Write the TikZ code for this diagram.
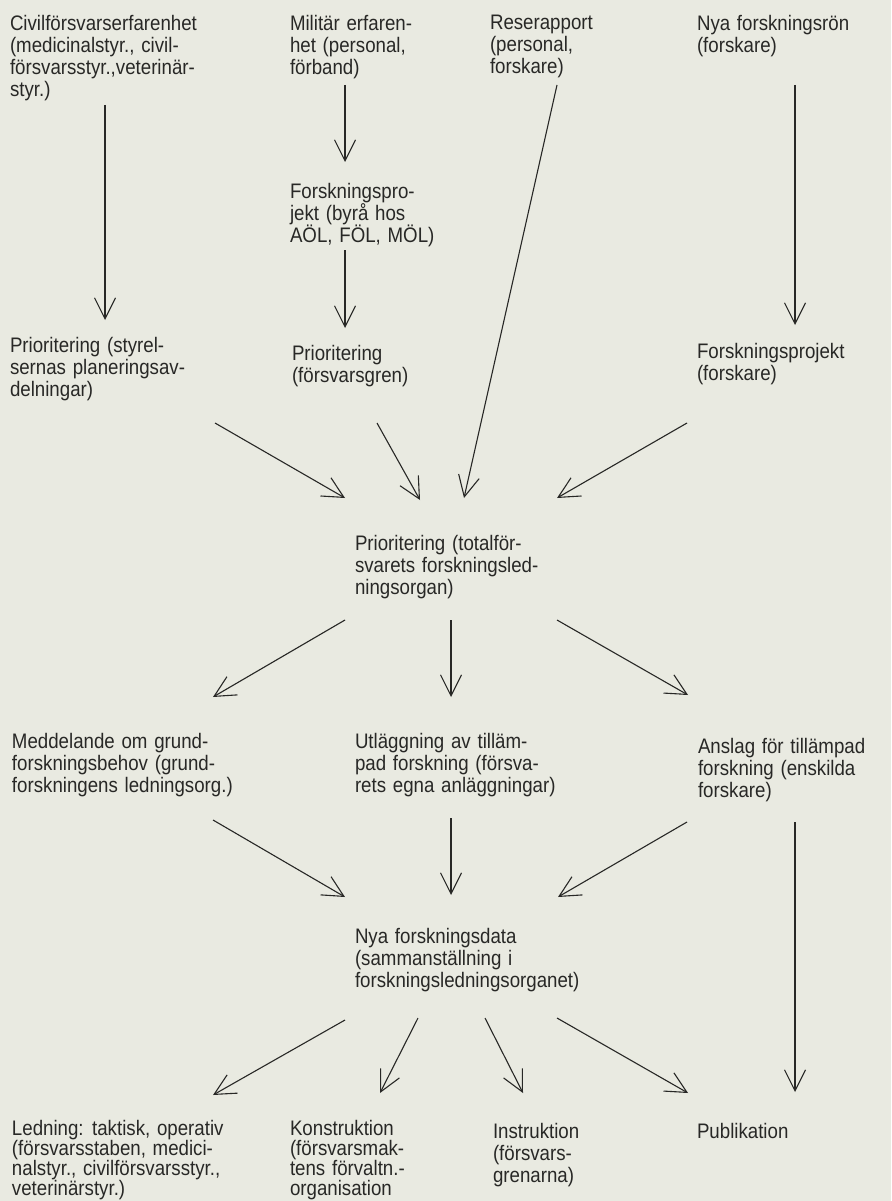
\documentclass[tikz,border=0pt]{standalone}
\usepackage{fontspec}
\setmainfont{Liberation Sans}[FakeStretch=0.89,WordSpace=1.3]
\usetikzlibrary{arrows.meta,calc}
\definecolor{paper}{RGB}{233,234,225}
\definecolor{ink}{RGB}{40,40,38}
\begin{document}
\begin{tikzpicture}[x=1pt,y=-1pt,
  lbl/.style={anchor=north west,inner sep=0pt,outer sep=0pt,align=left,
              font=\fontsize{21}{22}\selectfont,text=ink},
  lblb/.style={lbl,font=\fontsize{21}{20}\selectfont},
  arr/.style={draw=ink,line width=1.1pt,-{Straight Barb[length=21pt,width=21pt]}}]
\fill[paper] (0,0) rectangle (891,1201);
\useasboundingbox (0,0) rectangle (891,1201);

% nodes
\node[lbl] (civ) at (10,15) {Civilförsvarserfarenhet\\(medicinalstyr., civil-\\försvarsstyr.,veterinär-\\styr.)};
\node[lbl] (mil) at (290,15) {Militär erfaren-\\het (personal,\\förband)};
\node[lbl] (rese) at (490,15) {Reserapport\\(personal,\\forskare)};
\node[lbl] (nyar) at (697,15) {Nya forskningsrön\\(forskare)};
\node[lbl] (fpa) at (290,183) {Forskningspro-\\jekt (byrå hos\\AÖL, FÖL, MÖL)};
\node[lbl] (ps) at (10,337) {Prioritering (styrel-\\sernas planeringsav-\\delningar)};
\node[lbl] (pfg) at (292,345) {Prioritering\\(försvarsgren)};
\node[lbl] (fpb) at (697,343) {Forskningsprojekt\\(forskare)};
\node[lbl] (pt) at (355,535) {Prioritering (totalför-\\svarets forskningsled-\\ningsorgan)};
\node[lbl] (med) at (12,733) {Meddelande om grund-\\forskningsbehov (grund-\\forskningens ledningsorg.)};
\node[lbl] (utl) at (355,733) {Utläggning av tilläm-\\pad forskning (försva-\\rets egna anläggningar)};
\node[lbl] (ans) at (698,738) {Anslag för tillämpad\\forskning (enskilda\\forskare)};
\node[lbl] (nfd) at (355,928) {Nya forskningsdata\\(sammanställning i\\forskningsledningsorganet)};
\node[lblb] (led) at (12,1120) {Ledning: taktisk, operativ\\(försvarsstaben, medici-\\nalstyr., civilförsvarsstyr.,\\veterinärstyr.)};
\node[lblb] (kon) at (290,1120) {Konstruktion\\(försvarsmak-\\tens förvaltn.-\\organisation};
\node[lbl] (ins) at (493,1123) {Instruktion\\(försvars-\\grenarna)};
\node[lbl] (pub) at (697,1123) {Publikation};

% connectors
\draw[arr] ($(civ.north west)+(95,90)$) -- ($(ps.north west)+(95,-17)$);
\draw[arr] ($(mil.north west)+(55,70)$) -- ($(fpa.north west)+(55,-21)$);
\draw[arr] ($(fpa.north west)+(55,67)$) -- ($(pfg.north west)+(53,-17)$);
\draw[arr] ($(rese.north west)+(67,70)$) -- ($(pt.north west)+(109,-37)$);
\draw[arr] ($(nyar.north west)+(98,70)$) -- ($(fpb.north west)+(98,-18)$);
\draw[arr] ($(ps.north west)+(205,86)$) -- ($(pt.north west)+(-10,-37)$);
\draw[arr] ($(pfg.north west)+(85,78)$) -- ($(pt.north west)+(65,-35)$);
\draw[arr] ($(fpb.north west)+(-10,80)$) -- ($(pt.north west)+(202,-37)$);
\draw[arr] ($(pt.north west)+(-10,85)$) -- ($(med.north west)+(201,-36)$);
\draw[arr] ($(pt.north west)+(96,85)$) -- ($(utl.north west)+(96,-36)$);
\draw[arr] ($(pt.north west)+(202,85)$) -- ($(ans.north west)+(-10,-43)$);
\draw[arr] ($(med.north west)+(201,87)$) -- ($(nfd.north west)+(-10,-31)$);
\draw[arr] ($(utl.north west)+(96,85)$) -- ($(nfd.north west)+(96,-33)$);
\draw[arr] ($(ans.north west)+(-11,84)$) -- ($(nfd.north west)+(203,-31)$);
\draw[arr] ($(ans.north west)+(97,84)$) -- ($(pub.north west)+(98,-31)$);
\draw[arr] ($(nfd.north west)+(-10,92)$) -- ($(led.north west)+(201,-25)$);
\draw[arr] ($(nfd.north west)+(63,90)$) -- ($(kon.north west)+(90,-27)$);
\draw[arr] ($(nfd.north west)+(130,90)$) -- ($(ins.north west)+(30,-30)$);
\draw[arr] ($(nfd.north west)+(202,90)$) -- ($(pub.north west)+(-9,-30)$);
\end{tikzpicture}
\end{document}
